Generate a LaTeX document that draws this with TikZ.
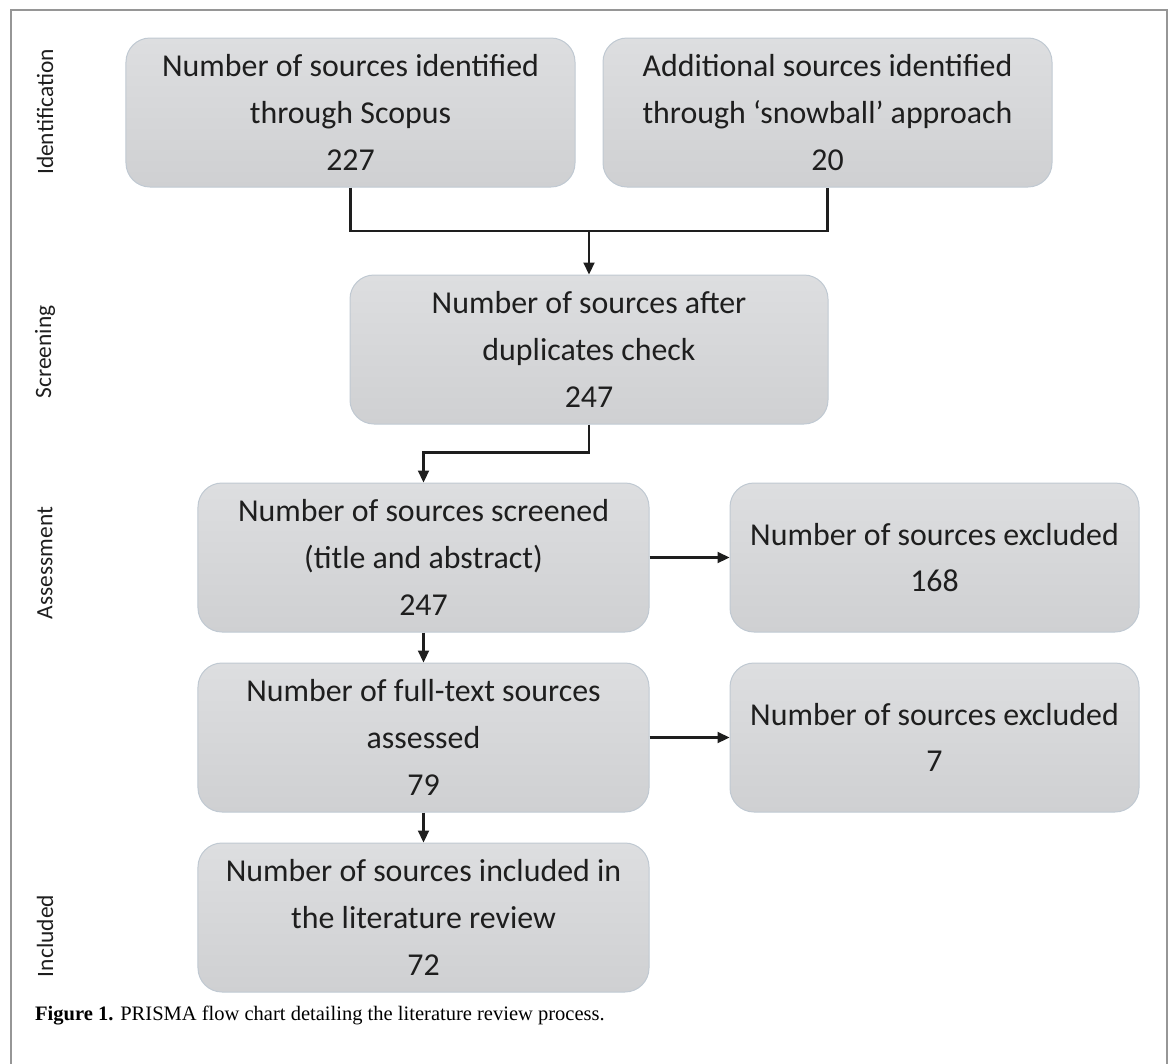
\documentclass[tikz,border=0pt]{standalone}
\usepackage{fontspec}
\setmainfont{Carlito}
\newfontfamily\capfont{Liberation Serif}
\usetikzlibrary{arrows.meta,positioning,calc}
\definecolor{boxtop}{RGB}{221,222,224}
\definecolor{boxbot}{RGB}{207,208,210}
\definecolor{boxline}{RGB}{192,201,210}
\definecolor{frameline}{RGB}{150,150,150}
\definecolor{txt}{RGB}{30,30,30}
\tikzset{
  flowbox/.style={rectangle, rounded corners=24bp, draw=boxline, line width=1bp,
    top color=boxtop, bottom color=boxbot, align=center, text=txt,
    font=\fontsize{32}{47}\selectfont, inner sep=0pt, minimum height=149bp},
  stagelabel/.style={rotate=90, text=txt, font=\fontsize{23.5}{28}\selectfont},
  conn/.style={line width=2.2bp, draw=txt},
  arr/.style={conn, -{Triangle[length=12bp,width=11bp]}},
}
\begin{document}
\begin{tikzpicture}[x=1bp,y=-1bp]
\useasboundingbox (0,0) rectangle (1173,1064);
\draw[frameline, line width=2bp] (11,1064) -- (11,10) -- (1167,10) -- (1167,1064);

\node[stagelabel] (s1) at (45,112) {Identification};
\node[stagelabel] (s2) at (45,352) {Screening};
\node[stagelabel] (s3) at (45,563) {Assessment};
\node[stagelabel] (s4) at (45,936) {Included};

\node[flowbox, minimum width=449bp] (b1) at (350.5,112.5) {Number of sources identified\\through Scopus\\227};
\node[flowbox, minimum width=449bp] (b2) at (827.5,112.5) {Additional sources identified\\through ‘snowball’ approach\\20};
\node[flowbox, minimum width=478bp] (b3) at (589,349.5) {Number of sources after\\duplicates check\\247};
\node[flowbox, minimum width=451bp] (b4) at (423.5,557.5) {Number of sources screened\\(title and abstract)\\247};
\node[flowbox, minimum width=409bp] (b5) at (934.5,557.5) {Number of sources excluded\\168};
\node[flowbox, minimum width=451bp] (b6) at (423.5,737.5) {Number of full-text sources\\assessed\\79};
\node[flowbox, minimum width=409bp] (b7) at (934.5,737.5) {Number of sources excluded\\7};
\node[flowbox, minimum width=451bp] (b8) at (423.5,917.5) {Number of sources included in\\the literature review\\72};

\coordinate (m) at (589,231);
\draw[conn] (b1.south) |- (m) -| (b2.south);
\draw[arr] (m) -- (b3.north);
\draw[arr] (b3.south) -- ++(0,28) -| (b4.north);
\draw[arr] (b4.east) -- (b5.west);
\draw[arr] (b4.south) -- (b6.north);
\draw[arr] (b6.east) -- (b7.west);
\draw[arr] (b6.south) -- (b8.north);

\node[anchor=base west, inner sep=0pt, text=black, font=\capfont\fontsize{20.6}{25}\selectfont] (cap) at (35,1020) {\textbf{Figure 1.} PRISMA flow chart detailing the literature review process.};
\end{tikzpicture}
\end{document}
